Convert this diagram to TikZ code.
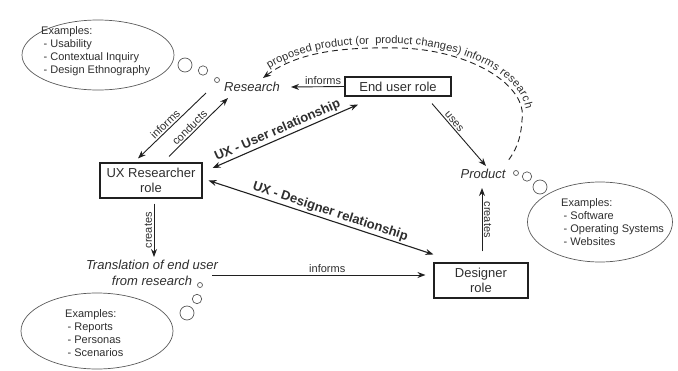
\documentclass[tikz,border=0pt]{standalone}
\usepackage{fontspec}
\setmainfont{Liberation Sans}
\usetikzlibrary{arrows.meta,decorations.text,shapes.geometric}
\definecolor{txt}{HTML}{2E2E2E}
\definecolor{ln}{HTML}{202020}
\definecolor{bub}{HTML}{5A5A5A}
\tikzset{
  roleBox/.style={draw=ln, line width=1.1pt, text=txt, font=\fontsize{13}{15}\selectfont, align=center, inner sep=0pt},
  itl/.style={text=txt, font=\fontsize{13}{16}\selectfont\itshape, align=center, inner sep=0pt},
  conn/.style={draw=ln, line width=0.9pt},
  rel/.style={draw=ln, line width=1.1pt, <->},
  lbl/.style={text=txt, font=\fontsize{11}{13}\selectfont, inner sep=1.5pt},
  blbl/.style={text=txt, font=\fontsize{13}{15}\selectfont\bfseries, inner sep=1.5pt},
  cloudEl/.style={ellipse, draw=bub, line width=0.7pt, inner sep=0pt},
  bubble/.style={draw=bub, line width=0.7pt},
  exText/.style={text=txt, font=\fontsize{11}{13}\selectfont, align=left, inner sep=0pt, anchor=west},
  >={Stealth[length=8pt,width=6pt]}
}
\begin{document}
\begin{tikzpicture}[x=1pt,y=-1pt]
\useasboundingbox (0,0) rectangle (678,370);

% example clouds
\node[cloudEl, minimum width=152pt, minimum height=70pt] (cloudA) at (98,55) {};
\node[exText] (cloudAtext) at (41,51.5) {Examples:\\\hspace*{2.5pt}- Usability\\\hspace*{2.5pt}- Contextual Inquiry\\\hspace*{2.5pt}- Design Ethnography};
\node[cloudEl, minimum width=145pt, minimum height=80pt] (cloudB) at (600,222) {};
\node[exText] (cloudBtext) at (561,222.5) {Examples:\\\hspace*{2.5pt}- Software\\\hspace*{2.5pt}- Operating Systems\\\hspace*{2.5pt}- Websites};
\node[cloudEl, minimum width=152pt, minimum height=76pt] (cloudC) at (97,331) {};
\node[exText] (cloudCtext) at (65,333.5) {Examples:\\\hspace*{2.5pt}- Reports\\\hspace*{2.5pt}- Personas\\\hspace*{2.5pt}- Scenarios};

% thought bubbles
\draw[bubble] (185,65) circle[radius=7pt];
\draw[bubble] (203,70.5) circle[radius=4.7pt];
\draw[bubble] (217,80) circle[radius=2.5pt];
\draw[bubble] (516,173) circle[radius=2.5pt];
\draw[bubble] (527,176.5) circle[radius=4.7pt];
\draw[bubble] (540,187) circle[radius=7pt];
\draw[bubble] (200,285) circle[radius=2.5pt];
\draw[bubble] (197,299) circle[radius=4.7pt];
\draw[bubble] (187,313) circle[radius=7pt];

% main nodes
\node[itl] (research) at (252,87) {Research};
\node[roleBox, minimum width=106pt, minimum height=19pt] (enduser) at (398,86.5) {End user role};
\node[roleBox, minimum width=102pt, minimum height=35pt] (ux) at (151,180.5) {UX Researcher\\role};
\node[roleBox, minimum width=94pt, minimum height=35pt] (designer) at (481,280.5) {Designer\\role};
\node[itl] (product) at (483,174) {Product};
\node[itl] (trans) at (152,273) {Translation of end user\\from research};

% connectors
\draw[conn, ->] (enduser.west) -- node[lbl, above, pos=0.4] {informs} ([shift={(39,0)}]research.center);
\draw[conn, <-] ([shift={(-13,-4)}]ux.north) -- node[lbl, above, sloped, pos=0.46] {informs} ([shift={(-46,6)}]research.center);
\draw[conn, ->] ([shift={(18,-6)}]ux.north) -- node[lbl, above, sloped, pos=0.42] {conducts} ([shift={(-24,11)}]research.center);
\draw[rel] ([shift={(10,-12.5)}]ux.east) -- node[blbl, above, sloped, pos=0.47] {UX - User relationship} ([shift={(-40,8)}]enduser.south);
\draw[rel] ([shift={(6,0)}]ux.east) -- node[blbl, above, sloped, pos=0.53] {UX - Designer relationship} ([shift={(0,-8)}]designer.north west);
\draw[conn, ->] ([shift={(34,7)}]enduser.south) -- node[lbl, above, sloped, pos=0.34] {uses} ([shift={(3,-8)}]product.center);
\draw[conn, ->] ([shift={(1,-11)}]designer.north) -- node[lbl, rotate=-90, anchor=south] {creates} ([shift={(-1,14)}]product.center);
\draw[conn, ->] ([shift={(3,5)}]ux.south) -- node[lbl, rotate=90, anchor=south] {creates} ([shift={(2,-16)}]trans.center);
\draw[conn, ->] ([shift={(60,2)}]trans.center) -- node[lbl, above, pos=0.54] {informs} ([shift={(-8,-5.5)}]designer.west);

% dashed feedback curve
\coordinate (dStart) at ([shift={(11,-9)}]research.center);
\coordinate (dEnd) at ([shift={(24,-12)}]product.center);
\coordinate (dTop) at (400,48);
\coordinate (dRight) at (522,120);
\draw[conn, dash pattern=on 6pt off 4pt, <-] (dStart) .. controls (300,50) and (350,47) .. (dTop) .. controls (470,50) and (528,85) .. (dRight) .. controls (521,140) and (515,152) .. (dEnd);
\path[decorate, decoration={text along path, raise=4pt, text align={left indent=10pt},
  text={|\fontsize{11}{13}\selectfont\color{txt}|proposed product (or{\ } product changes) informs research}}]
  (dStart) .. controls (300,50) and (350,47) .. (dTop) .. controls (470,50) and (528,85) .. (dRight) .. controls (521,140) and (515,152) .. (dEnd);
\end{tikzpicture}
\end{document}
